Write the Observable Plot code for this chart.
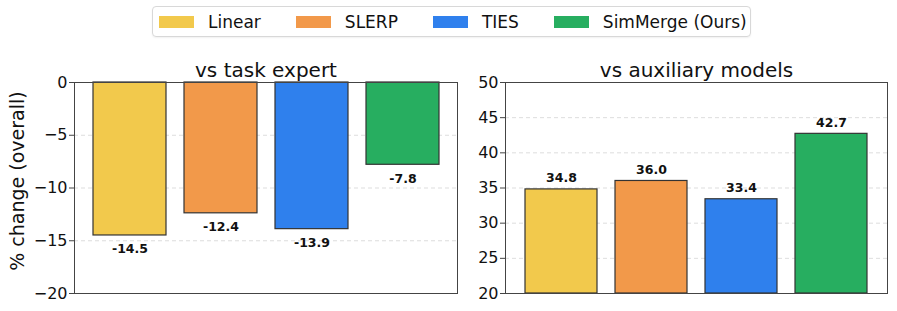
<!DOCTYPE html>
<html>
<head>
<meta charset="utf-8">
<script src="https://cdn.jsdelivr.net/npm/d3@7"></script>
<script src="https://cdn.jsdelivr.net/npm/@observablehq/plot@0.6"></script>
<style>
  html, body { margin: 0; padding: 0; background: #fff; }
  body { width: 897px; height: 311px; position: relative; overflow: hidden; font-family: "DejaVu Sans", sans-serif; }
  #legend { position: absolute; left: 152px; top: 6px; width: 591px; height: 29px; border: 1px solid #d8d8d8; border-radius: 4px;
            box-shadow: 0 1px 2px rgba(0,0,0,0.06); display: flex; align-items: center; padding-left: 6px; box-sizing: content-box; }
  .item { display: flex; align-items: center; font-size: 17px; color: #111; margin-right: 35px; white-space: nowrap; }
  .sw { width: 35px; height: 12px; margin-right: 14px; }
  #left { position: absolute; left: 0; top: 55px; }
  #right { position: absolute; left: 460px; top: 55px; }
  #ylabel { position: absolute; left: 17px; top: 181px; transform: translate(-50%, -50%) rotate(-90deg);
            font-size: 19px; color: #111; white-space: nowrap; line-height: 1; }
</style>
</head>
<body>
<div id="legend"></div>
<div id="left"></div>
<div id="right"></div>
<div id="ylabel"></div>
<script>
const methods = ["Linear", "SLERP", "TIES", "SimMerge (Ours)"];
const colors = ["#F2C94C", "#F2994A", "#2F80ED", "#27AE60"];
const vsExpert = [-14.5, -12.4, -13.9, -7.8];
const vsAux = [34.8, 36.0, 33.4, 42.7];
const leftTicks = [0, -5, -10, -15, -20];
const rightTicks = [20, 25, 30, 35, 40, 45, 50];
const leftTitle = "vs task expert";
const rightTitle = "vs auxiliary models";
const yLabel = "% change (overall)";

// legend
const legend = document.getElementById("legend");
methods.forEach((m, i) => {
  const it = document.createElement("div");
  it.className = "item";
  if (i === methods.length - 1) it.style.marginRight = "0";
  const sw = document.createElement("div");
  sw.className = "sw";
  sw.style.background = colors[i];
  const tx = document.createElement("span");
  tx.textContent = m;
  it.appendChild(sw); it.appendChild(tx);
  legend.appendChild(it);
});
document.getElementById("ylabel").textContent = yLabel;

const leftData = methods.map((m, i) => ({method: m, value: vsExpert[i]}));
const rightData = methods.map((m, i) => ({method: m, value: vsAux[i]}));

const common = (w) => ({
  width: w, height: 256,
  style: {fontFamily: "DejaVu Sans, sans-serif", background: "white", color: "#111", overflow: "visible"},
  x: {type: "band", domain: methods, paddingInner: 0.2, paddingOuter: 0.2, axis: null},
  color: {domain: methods, range: colors}
});

const left = Plot.plot({
  ...common(465),
  marginLeft: 74, marginRight: 8, marginTop: 27, marginBottom: 18,
  y: {domain: [-20, 0], axis: null},
  marks: [
    Plot.gridY(leftTicks.slice(1, -1), {stroke: "#d4d4d4", strokeOpacity: 1, strokeDasharray: "4,3", strokeWidth: 0.8}),
    Plot.barY(leftData, {x: "method", y1: 0, y2: "value", fill: "method", stroke: "#333", strokeWidth: 1.2}),
    Plot.text(leftData, {x: "method", y: "value", text: d => d.value.toFixed(1), lineAnchor: "top", dy: 9, fontSize: 12.5, fontWeight: "bold", fill: "#111"}),
    Plot.frame({stroke: "#444", strokeWidth: 1}),
    Plot.axisY({ticks: leftTicks, tickSize: 5, tickPadding: 2, fontSize: 16, label: null, stroke: "#444", color: "#111"}),
    Plot.text([leftTitle], {frameAnchor: "top", lineAnchor: "bottom", dy: -6, fontSize: 20, fill: "#111"})
  ]
});
document.getElementById("left").appendChild(left);

const right = Plot.plot({
  ...common(437),
  marginLeft: 45, marginRight: 10, marginTop: 27, marginBottom: 18,
  y: {domain: [20, 50], axis: null},
  marks: [
    Plot.gridY(rightTicks.slice(1, -1), {stroke: "#d4d4d4", strokeOpacity: 1, strokeDasharray: "4,3", strokeWidth: 0.8}),
    Plot.barY(rightData, {x: "method", y1: 20, y2: "value", fill: "method", stroke: "#333", strokeWidth: 1.2}),
    Plot.text(rightData, {x: "method", y: "value", text: d => d.value.toFixed(1), lineAnchor: "bottom", dy: -7, fontSize: 12.5, fontWeight: "bold", fill: "#111"}),
    Plot.frame({stroke: "#444", strokeWidth: 1}),
    Plot.axisY({ticks: rightTicks, tickSize: 5, tickPadding: 2, fontSize: 16, label: null, stroke: "#444", color: "#111"}),
    Plot.text([rightTitle], {frameAnchor: "top", lineAnchor: "bottom", dy: -6, fontSize: 20, fill: "#111"})
  ]
});
document.getElementById("right").appendChild(right);
</script>
</body>
</html>
